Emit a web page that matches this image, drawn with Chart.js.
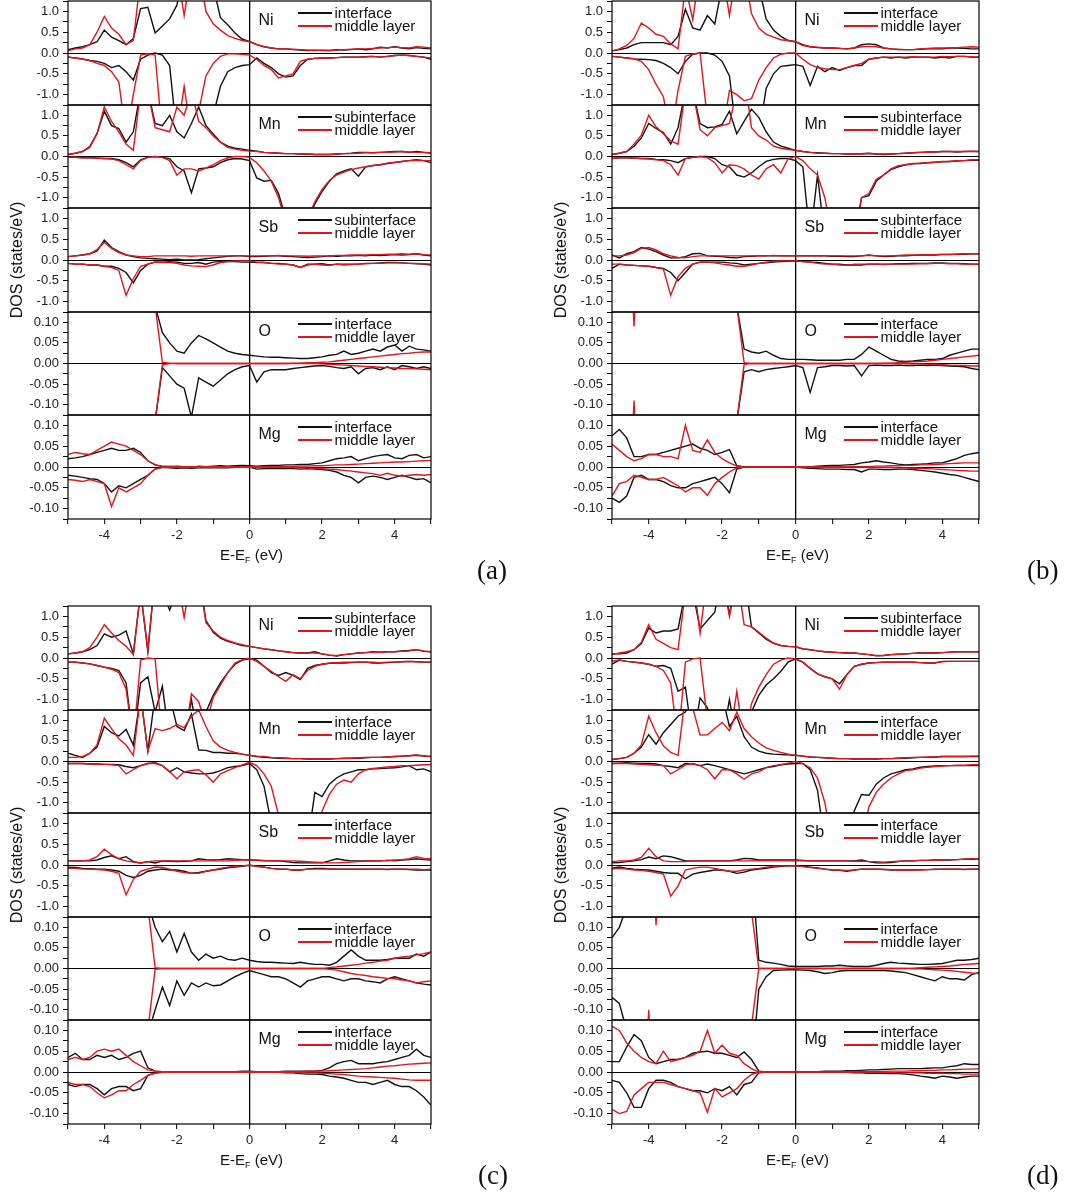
<!DOCTYPE html>
<html>
<head>
<meta charset="utf-8">
<script src="https://cdn.jsdelivr.net/npm/chart.js@4.4.0/dist/chart.umd.min.js"></script>
<style>
  body { margin: 0; background: #fff; }
  #page { position: relative; width: 1080px; height: 1193px; overflow: hidden; background: #fff;
          font-family: 'Liberation Sans', Arial, sans-serif; color: #111; }
  canvas { position: absolute; }
  .lbl { position: absolute; white-space: nowrap; line-height: 1; }
  .key { position: absolute; height: 2px; }
  .ttl { position: absolute; text-align: center; white-space: nowrap; line-height: 1; }
  .tag { position: absolute; font-family: 'Liberation Serif', 'DejaVu Serif', serif; font-size: 27px; line-height: 1; }
</style>
</head>
<body>
<div id="page"></div>
<script>
// energy grid (eV), shared by every curve
const E = [-5,-4.8,-4.6,-4.4,-4.2,-4,-3.8,-3.6,-3.4,-3.2,-3,
  -2.8,-2.6,-2.4,-2.2,-2,-1.8,-1.6,-1.4,-1.2,-1,
  -0.8,-0.6,-0.4,-0.2,0,0.2,0.4,0.6,0.8,1,
  1.2,1.4,1.6,1.8,2,2.2,2.4,2.6,2.8,3,
  3.2,3.4,3.6,3.8,4,4.2,4.4,4.6,4.8,5];

const xTicks = [-4, -2, 0, 2, 4];
const elements = ['Ni', 'Mn', 'Sb', 'O', 'Mg'];

// ---------- panel (a) ----------
const aNiBlkUp = [0.08,0.12,0.15,0.2,0.27,0.55,0.38,0.3,0.2,0.35,1.07,
  1.1,0.48,0.65,0.82,1.15,2,2,2,2,1.6,
  0.85,0.68,0.48,0.33,0.28,0.2,0.15,0.12,0.1,0.1,
  0.08,0.07,0.06,0.07,0.06,0.06,0.08,0.07,0.08,0.1,
  0.08,0.1,0.14,0.12,0.15,0.12,0.1,0.13,0.11,0.1];
const aNiRedUp = [0.05,0.1,0.12,0.2,0.5,0.88,0.6,0.45,0.2,0.3,1.8,
  2,2,2,2,2,0.9,2,2,1.0,0.7,
  0.55,0.42,0.35,0.3,0.27,0.2,0.15,0.12,0.1,0.1,
  0.09,0.08,0.07,0.06,0.07,0.06,0.07,0.08,0.09,0.1,
  0.1,0.11,0.12,0.13,0.14,0.13,0.12,0.15,0.14,0.12];
const aNiBlkDn = [-0.1,-0.12,-0.14,-0.18,-0.2,-0.25,-0.35,-0.3,-0.45,-0.65,-0.15,
  -0.05,0,-0.05,-0.3,-2,-2,-2,-2,-2,-1.5,
  -0.8,-0.45,-0.35,-0.3,-0.28,-0.12,-0.25,-0.35,-0.5,-0.58,
  -0.55,-0.3,-0.15,-0.13,-0.12,-0.12,-0.11,-0.1,-0.1,-0.1,
  -0.09,-0.08,-0.1,-0.08,-0.06,-0.05,-0.06,-0.08,-0.1,-0.15];
const aNiRedDn = [-0.1,-0.12,-0.15,-0.18,-0.25,-0.3,-0.45,-0.7,-2,-1.0,-0.05,
  -0.02,-0.05,-2,-2,-2,-0.8,-2,-1.4,-0.55,-0.25,
  -0.08,-0.02,-0.02,-0.03,-0.05,-0.15,-0.3,-0.4,-0.6,-0.55,
  -0.5,-0.2,-0.15,-0.13,-0.12,-0.12,-0.11,-0.1,-0.1,-0.1,
  -0.09,-0.08,-0.1,-0.08,-0.06,-0.05,-0.06,-0.08,-0.1,-0.12];

const aMnBlkUp = [0.05,0.08,0.12,0.24,0.56,1.1,0.75,0.68,0.35,0.6,1.6,
  1.6,0.8,0.75,1.0,0.6,0.45,0.8,1.2,0.75,0.55,
  0.35,0.25,0.2,0.18,0.15,0.13,0.1,0.09,0.08,0.07,
  0.07,0.06,0.06,0.05,0.05,0.05,0.06,0.07,0.08,0.1,
  0.1,0.09,0.1,0.11,0.12,0.12,0.1,0.12,0.1,0.08];
const aMnRedUp = [0.05,0.08,0.12,0.22,0.55,1.2,0.85,0.6,0.3,0.15,1.6,
  1.6,0.7,0.65,0.6,1.2,1.0,1.6,0.85,0.7,0.5,
  0.35,0.22,0.18,0.15,0.13,0.12,0.1,0.09,0.08,0.07,
  0.07,0.06,0.06,0.05,0.05,0.05,0.06,0.07,0.07,0.08,
  0.09,0.09,0.1,0.1,0.11,0.12,0.11,0.1,0.1,0.09];
const aMnBlkDn = [-0.02,-0.02,-0.03,-0.03,-0.04,-0.05,-0.05,-0.08,-0.15,-0.25,-0.08,
  -0.02,0,-0.02,-0.05,-0.25,-0.35,-0.88,-0.3,-0.28,-0.25,
  -0.15,-0.08,-0.05,-0.06,-0.1,-0.52,-0.6,-0.58,-0.9,-1.5,
  -2,-2,-1.6,-1.15,-0.85,-0.6,-0.42,-0.35,-0.3,-0.48,
  -0.25,-0.22,-0.2,-0.17,-0.15,-0.12,-0.1,-0.08,-0.1,-0.15];
const aMnRedDn = [-0.02,-0.02,-0.03,-0.03,-0.04,-0.05,-0.06,-0.1,-0.2,-0.3,-0.1,
  -0.02,0,-0.02,-0.1,-0.45,-0.3,-0.3,-0.35,-0.28,-0.2,
  -0.1,-0.03,0,0,-0.02,-0.15,-0.35,-0.6,-1.0,-1.6,
  -2,-2,-1.5,-1.1,-0.8,-0.58,-0.45,-0.38,-0.32,-0.28,
  -0.25,-0.22,-0.2,-0.16,-0.14,-0.12,-0.1,-0.09,-0.1,-0.1];

const aSbBlkUp = [0.08,0.1,0.12,0.15,0.22,0.48,0.3,0.2,0.12,0.08,0.05,
  0.04,0.03,0.02,0.01,0.02,0,0,0.01,0.03,0.05,
  0.07,0.09,0.1,0.1,0.08,0.08,0.09,0.1,0.1,0.09,
  0.08,0.07,0.06,0.07,0.08,0.1,0.09,0.1,0.1,0.11,
  0.1,0.12,0.11,0.12,0.13,0.12,0.13,0.15,0.12,0.1];
const aSbRedUp = [0.08,0.1,0.12,0.15,0.25,0.42,0.28,0.18,0.12,0.1,0.08,
  0.08,0.1,0.1,0.1,0.1,0.1,0.09,0.1,0.1,0.1,
  0.1,0.1,0.1,0.1,0.1,0.1,0.1,0.1,0.11,0.1,
  0.1,0.1,0.09,0.1,0.1,0.1,0.11,0.11,0.12,0.12,
  0.12,0.13,0.13,0.14,0.14,0.15,0.14,0.15,0.13,0.12];
const aSbBlkDn = [-0.08,-0.1,-0.1,-0.12,-0.12,-0.15,-0.15,-0.2,-0.3,-0.55,-0.25,
  -0.1,-0.05,-0.05,-0.04,-0.05,-0.08,-0.08,-0.06,-0.1,-0.05,
  -0.04,-0.04,-0.04,-0.05,-0.05,-0.06,-0.06,-0.08,-0.08,-0.1,
  -0.12,-0.18,-0.1,-0.1,-0.09,-0.12,-0.1,-0.1,-0.1,-0.1,
  -0.08,-0.08,-0.07,-0.06,-0.06,-0.07,-0.08,-0.09,-0.1,-0.12];
const aSbRedDn = [-0.08,-0.1,-0.1,-0.12,-0.12,-0.15,-0.18,-0.25,-0.85,-0.45,-0.15,
  -0.1,-0.05,-0.06,-0.06,-0.08,-0.12,-0.14,-0.15,-0.16,-0.12,
  -0.06,-0.04,-0.02,-0.02,-0.02,-0.05,-0.06,-0.08,-0.1,-0.1,
  -0.12,-0.18,-0.12,-0.1,-0.12,-0.13,-0.1,-0.12,-0.11,-0.1,
  -0.09,-0.08,-0.08,-0.07,-0.07,-0.07,-0.08,-0.08,-0.09,-0.1];

const aOBlkUp = [0.5,0.5,0.5,0.5,0.5,0.5,0.5,0.5,0.5,0.5,0.5,
  0.5,0.14,0.075,0.05,0.03,0.025,0.05,0.068,0.06,0.05,
  0.04,0.03,0.025,0.022,0.02,0.018,0.016,0.015,0.015,0.014,
  0.013,0.012,0.012,0.014,0.016,0.02,0.022,0.03,0.022,0.025,
  0.03,0.035,0.03,0.04,0.045,0.03,0.042,0.035,0.033,0.03];
const aORedUp = [0.5,0.5,0.5,0.5,0.5,0.5,0.5,0.5,0.5,0.5,0.5,
  0.5,0.14,0.003,0.001,0,0,0,0,0,0,
  0,0,0,0,0,0,0,0,0,0,
  0.001,0.001,0.002,0.002,0.003,0.004,0.006,0.008,0.01,0.012,
  0.014,0.016,0.018,0.02,0.022,0.024,0.025,0.027,0.028,0.028];
const aOBlkDn = [-0.5,-0.5,-0.5,-0.5,-0.5,-0.5,-0.5,-0.5,-0.5,-0.5,-0.5,
  -0.5,-0.14,-0.01,-0.03,-0.05,-0.06,-0.13,-0.035,-0.045,-0.055,
  -0.04,-0.025,-0.015,-0.008,-0.005,-0.045,-0.02,-0.015,-0.015,-0.015,
  -0.012,-0.01,-0.008,-0.006,-0.005,-0.007,-0.01,-0.012,-0.008,-0.025,
  -0.012,-0.01,-0.015,-0.008,-0.015,-0.005,-0.008,-0.012,-0.008,-0.012];
const aORedDn = [-0.5,-0.5,-0.5,-0.5,-0.5,-0.5,-0.5,-0.5,-0.5,-0.5,-0.5,
  -0.5,-0.14,-0.003,0,0,0,0,0,0,0,
  0,0,0,0,0,0,0,0,0,0,
  0,0,0,0,-0.001,-0.002,-0.003,-0.004,-0.005,-0.006,
  -0.007,-0.008,-0.009,-0.01,-0.011,-0.012,-0.012,-0.013,-0.014,-0.015];

const aMgBlkUp = [0.02,0.022,0.025,0.03,0.035,0.04,0.045,0.04,0.04,0.045,0.035,
  0.015,0.005,0.001,0,0.002,0.001,-0.001,0.002,0.001,0.002,
  0.003,0.002,0.003,0.004,0.003,0.002,0.003,0.004,0.004,0.005,
  0.005,0.006,0.006,0.008,0.01,0.015,0.02,0.022,0.025,0.015,
  0.02,0.025,0.028,0.03,0.022,0.02,0.028,0.03,0.022,0.025];
const aMgRedUp = [0.03,0.035,0.032,0.03,0.04,0.05,0.06,0.055,0.05,0.04,0.03,
  0.015,0.005,0.002,0.002,0.001,0.001,0.001,0.001,0.001,0.001,
  0.001,0.001,0.001,0.001,0.001,0.001,0.001,0.001,0.001,0.001,
  0.001,0.002,0.002,0.003,0.003,0.004,0.005,0.005,0.006,0.007,
  0.008,0.009,0.01,0.011,0.012,0.012,0.013,0.014,0.015,0.016];
const aMgBlkDn = [-0.02,-0.022,-0.025,-0.028,-0.03,-0.04,-0.06,-0.045,-0.05,-0.04,-0.03,
  -0.02,-0.005,-0.001,-0.002,-0.003,-0.002,-0.003,-0.002,-0.002,-0.002,
  -0.002,-0.002,-0.001,-0.001,0,-0.005,-0.004,-0.004,-0.004,-0.004,
  -0.004,-0.005,-0.004,-0.005,-0.006,-0.008,-0.012,-0.02,-0.025,-0.038,
  -0.025,-0.022,-0.025,-0.03,-0.025,-0.02,-0.025,-0.03,-0.028,-0.038];
const aMgRedDn = [-0.03,-0.032,-0.035,-0.03,-0.035,-0.04,-0.095,-0.05,-0.06,-0.05,-0.04,
  -0.02,-0.005,-0.001,-0.001,-0.001,-0.001,-0.001,-0.001,-0.001,-0.001,
  -0.001,-0.001,-0.001,-0.001,-0.001,-0.001,-0.001,-0.001,-0.001,-0.001,
  -0.001,-0.002,-0.002,-0.003,-0.004,-0.005,-0.006,-0.008,-0.01,-0.012,
  -0.014,-0.016,-0.02,-0.015,-0.02,-0.022,-0.02,-0.018,-0.02,-0.018];

// ---------- panel (b) ----------
const bNiBlkUp = [0.05,0.08,0.12,0.2,0.25,0.25,0.25,0.25,0.2,0.4,1.05,
  0.6,0.55,0.9,0.7,1.6,2,2,2,2,1.6,
  0.82,0.55,0.4,0.3,0.27,0.2,0.15,0.13,0.12,0.12,
  0.11,0.1,0.12,0.2,0.22,0.2,0.12,0.1,0.08,0.08,
  0.08,0.09,0.1,0.1,0.1,0.12,0.12,0.11,0.1,0.1];
const bNiRedUp = [0.05,0.1,0.18,0.35,0.72,0.6,0.45,0.4,0.22,0.1,1.6,
  0.8,2,2,2,2,0.9,2,2,0.95,0.6,
  0.45,0.38,0.32,0.3,0.27,0.18,0.15,0.14,0.12,0.12,
  0.11,0.1,0.12,0.15,0.16,0.15,0.12,0.1,0.09,0.08,
  0.08,0.1,0.11,0.12,0.12,0.12,0.13,0.14,0.15,0.14];
const bNiBlkDn = [-0.08,-0.1,-0.12,-0.14,-0.15,-0.16,-0.18,-0.25,-0.35,-0.5,-0.2,
  -0.03,0,0,-0.05,-0.2,-0.55,-2,-2,-2,-2,
  -0.85,-0.5,-0.32,-0.3,-0.28,-0.32,-0.78,-0.32,-0.45,-0.35,
  -0.42,-0.35,-0.3,-0.3,-0.15,-0.12,-0.1,-0.12,-0.1,-0.12,
  -0.1,-0.1,-0.1,-0.12,-0.1,-0.12,-0.08,-0.08,-0.1,-0.1];
const bNiRedDn = [-0.08,-0.1,-0.12,-0.14,-0.2,-0.4,-0.75,-1.05,-2,-0.9,-0.08,
  -0.02,0,-1.6,-2,-2,-0.9,-1.0,-1.15,-1.1,-0.65,
  -0.35,-0.12,-0.03,0,0,-0.15,-0.28,-0.35,-0.38,-0.4,
  -0.4,-0.35,-0.3,-0.25,-0.15,-0.12,-0.1,-0.1,-0.1,-0.1,
  -0.09,-0.1,-0.1,-0.1,-0.08,-0.09,-0.08,-0.08,-0.09,-0.1];

const bMnBlkUp = [0.05,0.08,0.12,0.25,0.45,0.8,0.68,0.58,0.3,0.7,1.6,
  1.6,0.8,0.7,0.72,0.78,1.1,0.55,0.85,1.15,0.95,
  0.6,0.35,0.25,0.2,0.15,0.12,0.1,0.09,0.08,0.07,
  0.07,0.06,0.06,0.07,0.08,0.06,0.05,0.06,0.07,0.08,
  0.09,0.1,0.11,0.11,0.12,0.12,0.11,0.12,0.12,0.12];
const bMnRedUp = [0.05,0.08,0.12,0.3,0.52,1.0,0.72,0.55,0.38,0.3,1.6,
  1.6,0.65,0.5,0.7,0.75,0.8,1.6,2,0.7,0.5,
  0.4,0.25,0.2,0.17,0.15,0.12,0.1,0.08,0.08,0.07,
  0.07,0.06,0.06,0.06,0.07,0.06,0.06,0.06,0.07,0.08,
  0.09,0.1,0.1,0.11,0.12,0.12,0.12,0.12,0.13,0.12];
const bMnBlkDn = [-0.05,-0.03,-0.03,-0.04,-0.05,-0.05,-0.07,-0.08,-0.1,-0.15,-0.05,
  -0.02,0,0,-0.05,-0.2,-0.25,-0.45,-0.5,-0.4,-0.25,
  -0.12,-0.07,-0.05,-0.05,-0.1,-0.25,-2,-0.45,-2,-2,
  -2,-2,-2,-1.0,-0.95,-0.6,-0.45,-0.32,-0.25,-0.2,
  -0.18,-0.17,-0.15,-0.14,-0.13,-0.12,-0.11,-0.1,-0.09,-0.09];
const bMnRedDn = [-0.05,-0.03,-0.03,-0.04,-0.05,-0.06,-0.08,-0.1,-0.2,-0.45,-0.05,
  -0.02,0,-0.03,-0.15,-0.4,-0.2,-0.22,-0.3,-0.45,-0.55,
  -0.3,-0.2,-0.4,-0.05,0,-0.1,-0.3,-0.45,-1.0,-2,
  -2,-2,-2,-1.0,-0.9,-0.55,-0.45,-0.3,-0.22,-0.2,
  -0.17,-0.16,-0.15,-0.14,-0.12,-0.12,-0.1,-0.1,-0.08,-0.08];

const bSbBlkUp = [0.12,0.05,0.15,0.2,0.3,0.26,0.2,0.12,0.05,0.05,0.08,
  0.15,0.16,0.1,0.09,0.08,0.06,0.05,0.08,0.09,0.1,
  0.1,0.1,0.1,0.1,0.1,0.1,0.1,0.1,0.1,0.09,
  0.09,0.08,0.08,0.1,0.12,0.1,0.08,0.09,0.1,0.1,
  0.11,0.12,0.12,0.12,0.13,0.13,0.14,0.14,0.15,0.15];
const bSbRedUp = [0.1,0.1,0.12,0.18,0.28,0.3,0.24,0.15,0.1,0.06,0.05,
  0.08,0.1,0.1,0.1,0.1,0.1,0.1,0.1,0.1,0.1,
  0.1,0.11,0.1,0.1,0.1,0.1,0.1,0.1,0.1,0.1,
  0.1,0.1,0.1,0.1,0.11,0.1,0.1,0.1,0.11,0.12,
  0.12,0.12,0.13,0.13,0.14,0.14,0.14,0.15,0.15,0.15];
const bSbBlkDn = [-0.2,-0.1,-0.12,-0.13,-0.14,-0.15,-0.18,-0.2,-0.3,-0.5,-0.3,
  -0.1,-0.05,-0.05,-0.05,-0.05,-0.07,-0.08,-0.12,-0.1,-0.08,
  -0.07,-0.05,-0.04,-0.03,-0.02,-0.04,-0.05,-0.06,-0.08,-0.1,
  -0.1,-0.12,-0.12,-0.12,-0.1,-0.1,-0.1,-0.1,-0.09,-0.09,
  -0.08,-0.08,-0.08,-0.07,-0.07,-0.08,-0.08,-0.09,-0.1,-0.1];
const bSbRedDn = [-0.1,-0.1,-0.12,-0.13,-0.14,-0.15,-0.18,-0.22,-0.85,-0.4,-0.2,
  -0.1,-0.05,-0.05,-0.07,-0.1,-0.12,-0.15,-0.15,-0.12,-0.08,
  -0.05,-0.03,-0.02,-0.02,-0.02,-0.04,-0.05,-0.08,-0.1,-0.1,
  -0.12,-0.13,-0.1,-0.1,-0.1,-0.1,-0.11,-0.1,-0.1,-0.1,
  -0.1,-0.09,-0.09,-0.08,-0.08,-0.09,-0.09,-0.1,-0.1,-0.11];

const bOBlkUp = [0.5,0.5,0.5,0.5,0.5,0.5,0.5,0.5,0.5,0.5,0.5,
  0.5,0.5,0.5,0.5,0.5,0.5,0.14,0.035,0.028,0.025,
  0.03,0.02,0.012,0.01,0.01,0.01,0.009,0.008,0.008,0.008,
  0.008,0.01,0.01,0.022,0.04,0.03,0.02,0.01,0.006,0.005,
  0.006,0.008,0.01,0.01,0.012,0.02,0.025,0.03,0.035,0.035];
const bORedUp = [0.5,0.5,0.5,0.09,0.5,0.5,0.5,0.5,0.5,0.5,0.5,
  0.5,0.5,0.5,0.5,0.5,0.5,0.14,0.002,0,0,
  0,0,0,0,0,0,0,0,0,0,
  0,0,0,0,0,0,0.001,0.001,0.002,0.003,
  0.004,0.005,0.006,0.008,0.01,0.012,0.014,0.016,0.018,0.02];
const bOBlkDn = [-0.5,-0.5,-0.5,-0.5,-0.5,-0.5,-0.5,-0.5,-0.5,-0.5,-0.5,
  -0.5,-0.5,-0.5,-0.5,-0.5,-0.5,-0.14,-0.02,-0.015,-0.02,
  -0.015,-0.012,-0.01,-0.008,-0.005,-0.01,-0.07,-0.01,-0.008,-0.005,
  -0.005,-0.006,-0.005,-0.03,-0.005,-0.004,-0.005,-0.005,-0.004,-0.005,
  -0.005,-0.004,-0.005,-0.004,-0.005,-0.006,-0.007,-0.008,-0.012,-0.015];
const bORedDn = [-0.5,-0.5,-0.5,-0.09,-0.5,-0.5,-0.5,-0.5,-0.5,-0.5,-0.5,
  -0.5,-0.5,-0.5,-0.5,-0.5,-0.5,-0.14,-0.002,0,0,
  0,0,0,0,0,0,0,0,0,0,
  0,0,0,0,0,0,0,0,0,0,
  -0.001,-0.001,-0.002,-0.002,-0.003,-0.004,-0.005,-0.005,-0.006,-0.006];

const bMgBlkUp = [0.075,0.09,0.07,0.025,0.025,0.03,0.03,0.035,0.04,0.045,0.05,
  0.055,0.045,0.04,0.03,0.035,0.042,0.003,0,0,0,
  0,0,0,0,0,0,0.001,0.002,0.003,0.004,
  0.004,0.005,0.006,0.01,0.012,0.015,0.012,0.01,0.007,0.005,
  0.006,0.007,0.008,0.01,0.01,0.015,0.02,0.028,0.032,0.035];
const bMgRedUp = [0.055,0.04,0.025,0.015,0.02,0.03,0.03,0.025,0.025,0.02,0.1,
  0.04,0.035,0.065,0.035,0.02,0.01,0.002,0,0,0,
  0,0,0,0,0,0,0,0,0,0,
  0,0,0.001,0.001,0.001,0.002,0.002,0.003,0.003,0.004,
  0.004,0.005,0.005,0.006,0.007,0.008,0.009,0.01,0.01,0.01];
const bMgBlkDn = [-0.075,-0.085,-0.07,-0.025,-0.02,-0.03,-0.03,-0.035,-0.045,-0.05,-0.05,
  -0.04,-0.035,-0.03,-0.025,-0.04,-0.062,-0.005,0,0,0,
  0,0,0,0,0,-0.002,-0.003,-0.004,-0.005,-0.005,
  -0.005,-0.006,-0.006,-0.012,-0.005,-0.005,-0.006,-0.006,-0.005,-0.005,
  -0.006,-0.008,-0.01,-0.012,-0.015,-0.018,-0.02,-0.025,-0.03,-0.035];
const bMgRedDn = [-0.07,-0.04,-0.035,-0.02,-0.025,-0.03,-0.03,-0.025,-0.035,-0.045,-0.06,
  -0.05,-0.05,-0.068,-0.04,-0.025,-0.012,-0.002,0,0,0,
  0,0,0,0,0,0,0,0,0,0,
  0,0,0,0,0,-0.001,-0.001,-0.001,-0.002,-0.002,
  -0.003,-0.003,-0.004,-0.005,-0.006,-0.007,-0.008,-0.009,-0.01,-0.01];

// ---------- panel (c) ----------
const cNiBlkUp = [0.1,0.12,0.15,0.2,0.3,0.58,0.5,0.55,0.65,0.1,1.6,
  0.15,2,1.6,1.15,1.6,2,2,2,0.9,0.62,
  0.48,0.4,0.35,0.3,0.28,0.25,0.22,0.2,0.17,0.15,
  0.13,0.12,0.12,0.15,0.1,0.07,0.05,0.08,0.1,0.12,
  0.13,0.15,0.14,0.15,0.15,0.17,0.18,0.2,0.16,0.15];
const cNiRedUp = [0.1,0.12,0.15,0.25,0.5,0.8,0.6,0.42,0.28,0.08,1.6,
  0.2,2,2,2,2,0.97,2,2,0.85,0.65,
  0.5,0.42,0.36,0.32,0.28,0.25,0.22,0.2,0.17,0.15,
  0.13,0.12,0.12,0.12,0.1,0.07,0.06,0.08,0.1,0.12,
  0.13,0.14,0.14,0.15,0.15,0.16,0.17,0.2,0.17,0.15];
const cNiBlkDn = [-0.1,-0.1,-0.12,-0.14,-0.18,-0.22,-0.25,-0.3,-0.6,-2,-0.6,
  -0.45,-1.3,-0.68,-2,-2,-2,-1.0,-2,-1.3,-0.9,
  -0.6,-0.35,-0.15,-0.05,-0.02,-0.05,-0.2,-0.35,-0.42,-0.35,
  -0.42,-0.52,-0.25,-0.18,-0.15,-0.13,-0.12,-0.12,-0.11,-0.1,
  -0.1,-0.12,-0.12,-0.11,-0.1,-0.09,-0.08,-0.09,-0.1,-0.1];
const cNiRedDn = [-0.1,-0.1,-0.12,-0.14,-0.18,-0.22,-0.27,-0.35,-0.75,-2,-0.05,
  0,-0.02,-2,-2,-2,-2,-0.86,-1.05,-1.6,-0.95,
  -0.65,-0.35,-0.12,-0.04,0,-0.08,-0.2,-0.32,-0.45,-0.56,
  -0.4,-0.5,-0.3,-0.2,-0.15,-0.12,-0.11,-0.1,-0.1,-0.1,
  -0.1,-0.1,-0.11,-0.1,-0.1,-0.09,-0.08,-0.09,-0.1,-0.1];

const cMnBlkUp = [0.2,0.15,0.1,0.2,0.35,0.85,0.7,0.62,0.78,0.4,1.6,
  0.25,1.6,1.6,1.6,0.85,0.75,1.15,0.28,0.27,0.22,
  0.22,0.2,0.2,0.18,0.15,0.12,0.1,0.09,0.08,0.08,
  0.07,0.07,0.06,0.06,0.06,0.06,0.07,0.08,0.08,0.08,
  0.09,0.1,0.1,0.11,0.12,0.13,0.14,0.15,0.13,0.12];
const cMnRedUp = [0.1,0.1,0.12,0.2,0.4,1.05,0.8,0.55,0.4,0.15,1.6,
  0.25,0.8,0.75,0.8,0.9,0.82,1.1,1.25,0.85,0.5,
  0.35,0.27,0.22,0.18,0.15,0.13,0.12,0.1,0.09,0.08,
  0.07,0.07,0.06,0.06,0.06,0.06,0.07,0.07,0.08,0.09,
  0.1,0.1,0.1,0.11,0.12,0.13,0.14,0.16,0.14,0.12];
const cMnBlkDn = [-0.05,-0.05,-0.05,-0.06,-0.06,-0.07,-0.07,-0.08,-0.12,-0.15,-0.1,
  -0.05,-0.03,-0.1,-0.25,-0.15,-0.25,-0.28,-0.3,-0.3,-0.28,
  -0.22,-0.15,-0.12,-0.1,-0.05,-0.2,-0.6,-1.5,-2,-2,
  -2,-2,-2,-0.75,-0.85,-0.55,-0.4,-0.3,-0.25,-0.2,
  -0.2,-0.18,-0.17,-0.16,-0.15,-0.13,-0.1,-0.2,-0.18,-0.25];
const cMnRedDn = [-0.05,-0.05,-0.05,-0.06,-0.06,-0.07,-0.08,-0.1,-0.3,-0.2,-0.1,
  -0.05,-0.05,-0.1,-0.25,-0.42,-0.25,-0.22,-0.2,-0.32,-0.5,
  -0.3,-0.22,-0.15,-0.08,-0.02,-0.1,-0.3,-0.6,-1.3,-2,
  -2,-2,-2,-2,-1.2,-0.8,-0.55,-0.45,-0.5,-0.3,
  -0.2,-0.17,-0.15,-0.13,-0.12,-0.1,-0.1,-0.09,-0.08,-0.08];

const cSbBlkUp = [0.1,0.1,0.1,0.1,0.12,0.18,0.22,0.15,0.2,0.08,0.05,
  0.08,0.05,0.1,0.09,0.08,0.09,0.1,0.15,0.13,0.12,
  0.13,0.15,0.14,0.13,0.12,0.11,0.1,0.1,0.1,0.08,
  0.06,0.05,0.05,0.05,0.05,0.1,0.15,0.12,0.1,0.1,
  0.1,0.1,0.1,0.11,0.1,0.12,0.13,0.15,0.13,0.12];
const cSbRedUp = [0.1,0.1,0.1,0.12,0.2,0.38,0.25,0.15,0.1,0.07,0.05,
  0.08,0.1,0.1,0.1,0.1,0.1,0.1,0.1,0.1,0.1,
  0.1,0.1,0.11,0.12,0.12,0.12,0.11,0.1,0.1,0.1,
  0.1,0.09,0.08,0.07,0.06,0.05,0.05,0.06,0.07,0.08,
  0.09,0.1,0.1,0.11,0.12,0.13,0.15,0.2,0.16,0.15];
const cSbBlkDn = [-0.05,-0.06,-0.08,-0.09,-0.1,-0.1,-0.12,-0.15,-0.25,-0.3,-0.25,
  -0.15,-0.12,-0.1,-0.12,-0.12,-0.15,-0.2,-0.18,-0.15,-0.12,
  -0.1,-0.07,-0.05,-0.03,-0.01,-0.03,-0.05,-0.08,-0.1,-0.1,
  -0.12,-0.12,-0.1,-0.08,-0.08,-0.09,-0.1,-0.1,-0.1,-0.1,
  -0.1,-0.1,-0.1,-0.11,-0.1,-0.1,-0.11,-0.12,-0.12,-0.12];
const cSbRedDn = [-0.08,-0.08,-0.1,-0.1,-0.11,-0.12,-0.15,-0.2,-0.72,-0.35,-0.15,
  -0.1,-0.05,-0.06,-0.1,-0.15,-0.18,-0.2,-0.2,-0.15,-0.12,
  -0.08,-0.05,-0.03,-0.02,0,-0.03,-0.05,-0.08,-0.1,-0.1,
  -0.12,-0.12,-0.1,-0.1,-0.1,-0.09,-0.1,-0.1,-0.1,-0.1,
  -0.1,-0.1,-0.1,-0.1,-0.1,-0.1,-0.1,-0.1,-0.11,-0.1];

const cOBlkUp = [0.5,0.5,0.5,0.5,0.5,0.5,0.5,0.5,0.5,0.5,0.5,
  0.16,0.1,0.065,0.09,0.04,0.085,0.04,0.02,0.035,0.025,
  0.03,0.022,0.02,0.025,0.02,0.017,0.015,0.015,0.014,0.013,
  0.012,0.015,0.012,0.01,0.01,0.008,0.015,0.03,0.045,0.03,
  0.02,0.02,0.02,0.022,0.025,0.025,0.025,0.035,0.03,0.04];
const cORedUp = [0.5,0.5,0.5,0.5,0.5,0.5,0.5,0.5,0.5,0.5,0.5,
  0.15,0.002,0,0,0,0,0,0,0,0,
  0,0,0,0,0,0,0,0,0,0,
  0,0,0,0,0,0.002,0.004,0.006,0.008,0.01,
  0.013,0.015,0.018,0.02,0.025,0.028,0.03,0.033,0.036,0.04];
const cOBlkDn = [-0.5,-0.5,-0.5,-0.5,-0.5,-0.5,-0.5,-0.5,-0.5,-0.5,-0.5,
  -0.16,-0.1,-0.045,-0.09,-0.03,-0.065,-0.035,-0.045,-0.035,-0.042,
  -0.04,-0.03,-0.02,-0.012,-0.005,-0.01,-0.015,-0.02,-0.02,-0.025,
  -0.035,-0.045,-0.03,-0.025,-0.02,-0.02,-0.025,-0.03,-0.025,-0.025,
  -0.03,-0.032,-0.035,-0.025,-0.02,-0.025,-0.03,-0.035,-0.038,-0.04];
const cORedDn = [-0.5,-0.5,-0.5,-0.5,-0.5,-0.5,-0.5,-0.5,-0.5,-0.5,-0.5,
  -0.15,-0.002,0,0,0,0,0,0,0,0,
  0,0,0,0,0,0,0,0,0,0,
  0,0,0,0,0,-0.002,-0.004,-0.008,-0.012,-0.015,
  -0.017,-0.02,-0.022,-0.024,-0.025,-0.028,-0.03,-0.035,-0.032,-0.03];

const cMgBlkUp = [0.035,0.045,0.03,0.03,0.04,0.035,0.04,0.03,0.035,0.045,0.05,
  0.01,0.002,0.001,0.001,0.001,0.001,0,0,0.001,0.001,
  0.001,0.001,0.001,0.002,0.002,0.001,0.001,0.001,0.001,0.002,
  0.002,0.002,0.002,0.002,0.004,0.01,0.02,0.025,0.028,0.02,
  0.02,0.02,0.023,0.025,0.03,0.035,0.04,0.055,0.04,0.035];
const cMgRedUp = [0.03,0.035,0.03,0.035,0.05,0.055,0.05,0.055,0.04,0.025,0.015,
  0.005,0.002,0.001,0.001,0.001,0.001,0.001,0.001,0.001,0.001,
  0.001,0.001,0.001,0.001,0.001,0.001,0.001,0.001,0.001,0.001,
  0.001,0.001,0.002,0.002,0.002,0.003,0.004,0.005,0.006,0.007,
  0.008,0.01,0.012,0.014,0.015,0.017,0.019,0.02,0.021,0.022];
const cMgBlkDn = [-0.03,-0.035,-0.03,-0.03,-0.04,-0.055,-0.04,-0.035,-0.035,-0.045,-0.04,
  -0.008,-0.002,-0.001,-0.001,-0.001,-0.001,-0.001,-0.001,-0.001,-0.001,
  -0.001,-0.001,-0.001,-0.001,-0.001,-0.001,-0.001,-0.001,-0.001,-0.002,
  -0.002,-0.004,-0.005,-0.005,-0.006,-0.01,-0.012,-0.015,-0.02,-0.025,
  -0.025,-0.03,-0.025,-0.02,-0.03,-0.035,-0.035,-0.045,-0.06,-0.08];
const cMgRedDn = [-0.025,-0.03,-0.03,-0.035,-0.05,-0.062,-0.055,-0.045,-0.045,-0.03,-0.02,
  -0.008,-0.003,-0.001,-0.001,-0.001,-0.001,-0.001,-0.001,-0.001,-0.001,
  -0.001,-0.001,-0.001,-0.001,-0.001,-0.001,-0.001,-0.001,-0.001,-0.001,
  -0.001,-0.001,-0.002,-0.002,-0.003,-0.004,-0.005,-0.006,-0.008,-0.01,
  -0.011,-0.012,-0.013,-0.014,-0.015,-0.017,-0.019,-0.02,-0.02,-0.02];

// ---------- panel (d) ----------
const dNiBlkUp = [0.1,0.1,0.12,0.2,0.35,0.72,0.6,0.65,0.65,0.7,1.6,
  1.6,0.7,0.9,1.1,2,1.05,2,2,0.75,0.6,
  0.45,0.35,0.3,0.28,0.27,0.22,0.2,0.17,0.15,0.14,
  0.13,0.12,0.12,0.1,0.08,0.05,0.06,0.08,0.09,0.1,
  0.11,0.12,0.12,0.12,0.13,0.14,0.15,0.15,0.15,0.15];
const dNiRedUp = [0.08,0.12,0.15,0.2,0.38,0.8,0.45,0.35,0.25,0.2,1.6,
  2,0.6,2,2,2,1.0,2,0.8,0.75,0.62,
  0.48,0.36,0.3,0.28,0.27,0.22,0.2,0.17,0.15,0.14,
  0.13,0.12,0.12,0.1,0.08,0.06,0.06,0.08,0.09,0.1,
  0.11,0.12,0.12,0.12,0.13,0.14,0.15,0.15,0.15,0.15];
const dNiBlkDn = [-0.15,-0.05,-0.08,-0.1,-0.12,-0.15,-0.2,-0.18,-0.25,-0.8,-0.7,
  -2,-0.96,-1.2,-2,-2,-1.0,-2,-2,-1.3,-0.9,
  -0.65,-0.5,-0.32,-0.1,-0.02,-0.1,-0.25,-0.38,-0.45,-0.5,
  -0.62,-0.4,-0.2,-0.15,-0.12,-0.11,-0.1,-0.1,-0.1,-0.1,
  -0.1,-0.11,-0.12,-0.12,-0.08,-0.08,-0.08,-0.08,-0.08,-0.08];
const dNiRedDn = [-0.08,-0.05,-0.08,-0.1,-0.12,-0.15,-0.2,-0.3,-0.6,-2,-0.1,
  -0.02,0,-1.5,-2,-2,-2,-0.8,-2,-1.1,-0.7,
  -0.4,-0.15,-0.05,0,-0.02,-0.1,-0.25,-0.38,-0.45,-0.5,
  -0.75,-0.4,-0.2,-0.15,-0.12,-0.11,-0.1,-0.1,-0.1,-0.1,
  -0.1,-0.11,-0.12,-0.11,-0.09,-0.08,-0.08,-0.08,-0.08,-0.08];

const dMnBlkUp = [0.05,0.07,0.1,0.2,0.35,0.65,0.42,0.7,0.9,1.1,1.2,
  1.6,1.6,1.6,1.6,1.6,0.85,1.1,0.6,0.35,0.25,
  0.2,0.18,0.17,0.16,0.15,0.13,0.11,0.1,0.09,0.08,
  0.07,0.07,0.06,0.06,0.06,0.06,0.07,0.07,0.08,0.08,
  0.09,0.1,0.1,0.11,0.12,0.12,0.12,0.12,0.12,0.12];
const dMnRedUp = [0.05,0.07,0.1,0.2,0.4,1.1,0.7,0.38,0.22,0.15,1.6,
  1.3,0.64,0.65,0.8,0.95,0.75,1.2,0.8,0.6,0.45,
  0.33,0.27,0.22,0.18,0.15,0.13,0.11,0.1,0.09,0.08,
  0.07,0.07,0.06,0.06,0.06,0.06,0.07,0.07,0.08,0.09,
  0.1,0.1,0.11,0.11,0.12,0.12,0.12,0.12,0.13,0.13];
const dMnBlkDn = [-0.05,-0.04,-0.03,-0.04,-0.05,-0.05,-0.06,-0.1,-0.12,-0.15,-0.05,
  -0.06,-0.1,-0.06,-0.1,-0.15,-0.2,-0.25,-0.3,-0.25,-0.2,
  -0.15,-0.12,-0.08,-0.06,-0.05,-0.05,-0.2,-0.7,-2,-2,
  -2,-2,-1.2,-0.8,-0.82,-0.55,-0.4,-0.3,-0.25,-0.2,
  -0.18,-0.14,-0.12,-0.11,-0.1,-0.1,-0.1,-0.1,-0.1,-0.1];
const dMnRedDn = [-0.05,-0.05,-0.05,-0.06,-0.07,-0.08,-0.09,-0.1,-0.3,-0.2,-0.08,
  -0.05,-0.1,-0.2,-0.42,-0.2,-0.2,-0.3,-0.43,-0.3,-0.25,
  -0.15,-0.1,-0.08,-0.04,0,-0.05,-0.15,-0.4,-1.0,-2,
  -2,-2,-2,-2,-1.1,-0.75,-0.55,-0.4,-0.3,-0.22,
  -0.2,-0.16,-0.14,-0.12,-0.11,-0.1,-0.09,-0.09,-0.08,-0.08];

const dSbBlkUp = [0.05,0.06,0.08,0.1,0.13,0.19,0.15,0.22,0.2,0.15,0.1,
  0.1,0.1,0.1,0.1,0.1,0.1,0.12,0.16,0.15,0.12,
  0.12,0.12,0.12,0.12,0.12,0.11,0.1,0.1,0.1,0.1,
  0.1,0.1,0.1,0.12,0.08,0.05,0.05,0.06,0.08,0.1,
  0.1,0.11,0.11,0.12,0.12,0.12,0.13,0.14,0.14,0.15];
const dSbRedUp = [0.08,0.1,0.1,0.12,0.18,0.4,0.2,0.1,0.08,0.08,0.08,
  0.1,0.1,0.1,0.1,0.1,0.1,0.1,0.1,0.1,0.1,
  0.1,0.1,0.1,0.1,0.1,0.1,0.1,0.1,0.1,0.1,
  0.1,0.1,0.09,0.09,0.08,0.08,0.07,0.08,0.09,0.1,
  0.1,0.11,0.11,0.12,0.12,0.13,0.13,0.14,0.15,0.15];
const dSbBlkDn = [-0.08,-0.05,-0.08,-0.1,-0.11,-0.12,-0.15,-0.18,-0.2,-0.2,-0.33,
  -0.22,-0.18,-0.15,-0.12,-0.12,-0.15,-0.2,-0.17,-0.12,-0.1,
  -0.08,-0.05,-0.03,-0.02,-0.02,-0.03,-0.05,-0.07,-0.1,-0.12,
  -0.13,-0.15,-0.12,-0.1,-0.1,-0.1,-0.11,-0.12,-0.12,-0.12,
  -0.12,-0.11,-0.11,-0.1,-0.1,-0.1,-0.1,-0.11,-0.1,-0.1];
const dSbRedDn = [-0.1,-0.08,-0.1,-0.12,-0.13,-0.15,-0.18,-0.22,-0.75,-0.5,-0.12,
  -0.08,-0.05,-0.05,-0.08,-0.12,-0.15,-0.15,-0.12,-0.1,-0.08,
  -0.05,-0.03,-0.02,-0.02,-0.02,-0.04,-0.06,-0.08,-0.1,-0.12,
  -0.12,-0.13,-0.12,-0.1,-0.1,-0.1,-0.1,-0.11,-0.12,-0.12,
  -0.12,-0.12,-0.11,-0.11,-0.1,-0.1,-0.1,-0.1,-0.1,-0.1];

const dOBlkUp = [0.075,0.1,0.15,0.5,0.5,0.5,0.5,0.5,0.5,0.5,0.5,
  0.5,0.5,0.5,0.5,0.5,0.5,0.5,0.5,0.25,0.02,
  0.015,0.013,0.01,0.006,0.005,0.005,0.005,0.005,0.006,0.006,
  0.008,0.006,0.005,0.005,0.005,0.008,0.012,0.015,0.013,0.012,
  0.011,0.01,0.01,0.011,0.012,0.016,0.02,0.02,0.022,0.025];
const dORedUp = [0.5,0.5,0.5,0.5,0.5,0.5,0.105,0.5,0.5,0.5,0.5,
  0.5,0.5,0.5,0.5,0.5,0.5,0.5,0.5,0.14,0,
  0,0,0,0,0,0,0,0,0,0,
  0,0,0,0,0,0,0,0,0,0,
  0.001,0.002,0.003,0.004,0.005,0.006,0.008,0.01,0.011,0.012];
const dOBlkDn = [-0.07,-0.085,-0.15,-0.5,-0.5,-0.5,-0.5,-0.5,-0.5,-0.5,-0.5,
  -0.5,-0.5,-0.5,-0.5,-0.5,-0.5,-0.5,-0.5,-0.25,-0.05,
  -0.02,-0.005,-0.004,-0.003,-0.003,-0.004,-0.005,-0.008,-0.012,-0.01,
  -0.006,-0.005,-0.005,-0.005,-0.005,-0.005,-0.005,-0.006,-0.008,-0.01,
  -0.015,-0.02,-0.025,-0.03,-0.02,-0.025,-0.025,-0.028,-0.015,-0.01];
const dORedDn = [-0.5,-0.5,-0.5,-0.5,-0.5,-0.1,-0.5,-0.5,-0.5,-0.5,-0.5,
  -0.5,-0.5,-0.5,-0.5,-0.5,-0.5,-0.5,-0.5,-0.14,0,
  0,0,0,0,0,0,0,0,0,0,
  0,0,0,0,0,0,0,0,0,0,
  -0.001,-0.001,-0.002,-0.003,-0.004,-0.005,-0.007,-0.009,-0.011,-0.012];

const dMgBlkUp = [0.025,0.025,0.06,0.09,0.075,0.035,0.02,0.025,0.03,0.03,0.035,
  0.045,0.048,0.05,0.045,0.045,0.04,0.035,0.048,0.03,0.002,
  0,0,0,0,0,0,0.001,0.001,0.002,0.002,
  0.002,0.003,0.003,0.004,0.005,0.005,0.006,0.007,0.008,0.008,
  0.008,0.008,0.009,0.01,0.01,0.013,0.015,0.02,0.018,0.018];
const dMgRedUp = [0.11,0.1,0.07,0.05,0.035,0.025,0.02,0.05,0.025,0.03,0.035,
  0.04,0.05,0.1,0.045,0.065,0.045,0.04,0.02,0.008,0,
  0,0,0,0,0,0,0,0,0,0,
  0,0,0,0.001,0.001,0.001,0.001,0.002,0.002,0.002,
  0.003,0.003,0.004,0.004,0.005,0.005,0.006,0.007,0.007,0.008];
const dMgBlkDn = [-0.02,-0.025,-0.05,-0.085,-0.085,-0.04,-0.02,-0.02,-0.025,-0.035,-0.04,
  -0.045,-0.045,-0.05,-0.04,-0.045,-0.035,-0.055,-0.03,-0.025,-0.002,
  0,0,0,0,0,0,0,0,0,0,
  -0.001,-0.001,-0.002,-0.002,-0.003,-0.003,-0.003,-0.004,-0.004,-0.005,
  -0.007,-0.01,-0.012,-0.015,-0.01,-0.012,-0.015,-0.012,-0.01,-0.01];
const dMgRedDn = [-0.09,-0.1,-0.095,-0.055,-0.04,-0.025,-0.025,-0.025,-0.03,-0.035,-0.04,
  -0.045,-0.05,-0.097,-0.04,-0.06,-0.05,-0.04,-0.02,-0.006,0,
  0,0,0,0,0,0,0,0,0,0,
  0,0,0,0,-0.001,-0.001,-0.001,-0.001,-0.002,-0.002,
  -0.002,-0.002,-0.003,-0.003,-0.003,-0.004,-0.004,-0.005,-0.005,-0.005];

// ---------- layout ----------
const BLK = '#111111';
const RED = '#e3141c';
const OFFS = [0, 104, 207, 311, 414, 518];  // subplot edges, px from panel top

const panels = [
  { tag: '(a)', L: 68, R: 431, T: 1, tagX: 494, yLabelX: 17,
    names: ['interface', 'subinterface', 'subinterface', 'interface', 'interface'],
    series: [[aNiBlkUp, aNiBlkDn, aNiRedUp, aNiRedDn], [aMnBlkUp, aMnBlkDn, aMnRedUp, aMnRedDn],
             [aSbBlkUp, aSbBlkDn, aSbRedUp, aSbRedDn], [aOBlkUp, aOBlkDn, aORedUp, aORedDn],
             [aMgBlkUp, aMgBlkDn, aMgRedUp, aMgRedDn]] },
  { tag: '(b)', L: 612, R: 979, T: 1, tagX: 1044, yLabelX: 561,
    names: ['interface', 'subinterface', 'subinterface', 'interface', 'interface'],
    series: [[bNiBlkUp, bNiBlkDn, bNiRedUp, bNiRedDn], [bMnBlkUp, bMnBlkDn, bMnRedUp, bMnRedDn],
             [bSbBlkUp, bSbBlkDn, bSbRedUp, bSbRedDn], [bOBlkUp, bOBlkDn, bORedUp, bORedDn],
             [bMgBlkUp, bMgBlkDn, bMgRedUp, bMgRedDn]] },
  { tag: '(c)', L: 68, R: 431, T: 606, tagX: 495, yLabelX: 17,
    names: ['subinterface', 'interface', 'interface', 'interface', 'interface'],
    series: [[cNiBlkUp, cNiBlkDn, cNiRedUp, cNiRedDn], [cMnBlkUp, cMnBlkDn, cMnRedUp, cMnRedDn],
             [cSbBlkUp, cSbBlkDn, cSbRedUp, cSbRedDn], [cOBlkUp, cOBlkDn, cORedUp, cORedDn],
             [cMgBlkUp, cMgBlkDn, cMgRedUp, cMgRedDn]] },
  { tag: '(d)', L: 612, R: 979, T: 606, tagX: 1044, yLabelX: 561,
    names: ['subinterface', 'interface', 'interface', 'interface', 'interface'],
    series: [[dNiBlkUp, dNiBlkDn, dNiRedUp, dNiRedDn], [dMnBlkUp, dMnBlkDn, dMnRedUp, dMnRedDn],
             [dSbBlkUp, dSbBlkDn, dSbRedUp, dSbRedDn], [dOBlkUp, dOBlkDn, dORedUp, dORedDn],
             [dMgBlkUp, dMgBlkDn, dMgRedUp, dMgRedDn]] }
];

const page = document.getElementById('page');

function put(cls, html, css) {
  const d = document.createElement('div');
  d.className = cls;
  d.innerHTML = html;
  for (const k in css) d.style[k] = typeof css[k] === 'number' ? css[k] + 'px' : css[k];
  page.appendChild(d);
  return d;
}

// frame round every plot area
const boxPlugin = {
  id: 'box',
  afterDraw(chart) {
    const { ctx, chartArea: a } = chart;
    ctx.save();
    ctx.strokeStyle = '#000';
    ctx.lineWidth = 1.2;
    ctx.strokeRect(a.left, a.top, a.right - a.left, a.bottom - a.top);
    ctx.restore();
  }
};

const tickFont = { family: "'Liberation Sans', Arial, sans-serif", size: 13 };
const isZero = v => Math.abs(v) < 1e-9;

panels.forEach(p => {
  const x0 = (p.L + p.R) / 2;

  elements.forEach((el, k) => {
    const top = p.T + OFFS[k];
    const h = OFFS[k + 1] - OFFS[k];
    const last = k === elements.length - 1;
    const lim = k >= 3 ? 0.125 : 1.25;
    const step = lim / 5;

    const cv = document.createElement('canvas');
    cv.width = (p.R - p.L) + 70;
    cv.height = h + 4 + (last ? 32 : 0);
    cv.style.left = (p.L - 60) + 'px';
    cv.style.top = (top - 2) + 'px';
    page.appendChild(cv);

    const [bu, bd, ru, rd] = p.series[k];
    const line = (arr, col) => ({
      data: E.map((x, i) => ({ x: x, y: arr[i] })),
      borderColor: col, borderWidth: 1.4, pointRadius: 0, fill: false, tension: 0
    });

    new Chart(cv, {
      type: 'line',
      data: { datasets: [line(ru, RED), line(rd, RED), line(bu, BLK), line(bd, BLK)] },
      options: {
        responsive: false,
        animation: false,
        events: [],
        layout: { padding: { top: 2, bottom: last ? 0 : 2, left: 0, right: 10 } },
        plugins: { legend: { display: false }, tooltip: { enabled: false } },
        scales: {
          x: {
            type: 'linear', min: -5, max: 5,
            afterFit(s) { s.height = last ? 34 : 0; s.paddingLeft = 0; s.paddingRight = 0; },
            border: { display: false },
            grid: {
              color: c => (c.tick && isZero(c.tick.value)) ? '#000' : 'rgba(0,0,0,0)',
              lineWidth: 1.3,
              drawTicks: last, tickLength: 5, tickColor: '#000', tickWidth: 1
            },
            ticks: {
              display: last, stepSize: 1, autoSkip: false, maxRotation: 0, padding: 4,
              color: '#222', font: tickFont,
              callback: v => xTicks.includes(v) ? String(v) : ''
            }
          },
          y: {
            min: -lim, max: lim,
            afterFit(s) { s.width = 60; s.paddingTop = 0; s.paddingBottom = 0; },
            border: { display: false },
            grid: {
              color: c => (c.tick && isZero(c.tick.value)) ? '#000' : 'rgba(0,0,0,0)',
              lineWidth: 1,
              tickLength: 5, tickColor: '#000', tickWidth: 1
            },
            ticks: {
              stepSize: step, autoSkip: false, maxTicksLimit: 30, padding: 4,
              color: '#222', font: tickFont,
              callback: v => {
                const r = v / (2 * step);
                if (Math.abs(r - Math.round(r)) > 1e-6) return '';
                return (isZero(v) ? 0 : v).toFixed(k >= 3 ? 2 : 1);
              }
            }
          }
        }
      },
      plugins: [boxPlugin]
    });

    // element name and key
    put('lbl', el, { left: x0 + 9, top: top + 11, fontSize: '16px' });
    put('key', '', { left: x0 + 48, top: top + 11, width: 34, background: BLK });
    put('key', '', { left: x0 + 48, top: top + 24, width: 34, background: RED });
    put('lbl', p.names[k], { left: x0 + 85, top: top + 4, fontSize: '15px' });
    put('lbl', 'middle layer', { left: x0 + 85, top: top + 17, fontSize: '15px' });
  });

  // axis titles and panel tag
  put('ttl', 'DOS (states/eV)', { left: p.yLabelX - 100, top: p.T + 259 - 8, width: 200,
    fontSize: '16px', transform: 'rotate(-90deg)' });
  put('ttl', 'E-E<sub style="font-size:9px;vertical-align:-3px;">F</sub> (eV)',
    { left: x0 + 2 - 100, top: p.T + 554 - 8, width: 200, fontSize: '15px' });
  put('tag', p.tag, { left: p.tagX - 17, top: p.T + 556 });
});
</script>
</body>
</html>
